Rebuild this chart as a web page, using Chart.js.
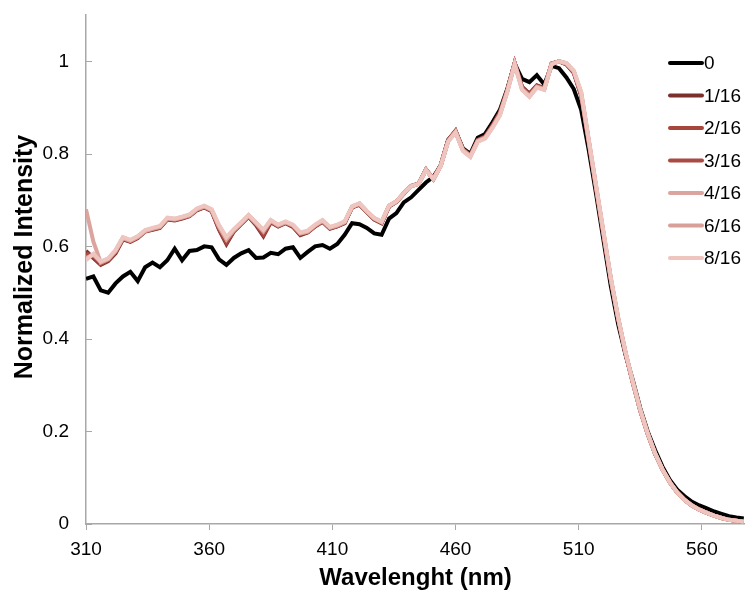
<!DOCTYPE html>
<html>
<head>
<meta charset="utf-8">
<script src="https://cdn.jsdelivr.net/npm/chart.js@4"></script>
<style>
  html, body { margin: 0; padding: 0; background: #fff; }
  #wrap { width: 745px; height: 594px; position: relative; }
</style>
</head>
<body>
<div id="wrap"><canvas id="spectrumChart" width="745" height="594"></canvas></div>
<script>
// Emission spectra, normalized, for each fraction
const wavelength = [
  310, 313, 316, 319, 322, 325, 328, 331, 334, 337, 340, 343, 346, 349, 352, 355, 358, 361,
  364, 367, 370, 373, 376, 379, 382, 385, 388, 391, 394, 397, 400, 403, 406, 409, 412, 415,
  418, 421, 424, 427, 430, 433, 436, 439, 442, 445, 448, 451, 454, 457, 460, 463, 466, 469,
  472, 475, 478, 481, 484, 487, 490, 493, 496, 499, 502, 505, 508, 511, 514, 517, 520, 523,
  526, 529, 532, 535, 538, 541, 544, 547, 550, 553, 556, 559, 562, 565, 568, 571, 574, 577
];

const seriesLabels = ["0", "1/16", "2/16", "3/16", "4/16", "6/16", "8/16"];
const seriesColors = ["#000000", "#7b302b", "#a8463e", "#a94b44", "#dca49e", "#d9a09a", "#efc5c0"];

const s0 = [
  0.530, 0.535, 0.505, 0.500, 0.520, 0.535, 0.545, 0.525, 0.555, 0.565, 0.555, 0.570, 0.595, 0.570, 0.590, 0.592, 0.600, 0.598,
  0.572, 0.560, 0.575, 0.585, 0.592, 0.575, 0.576, 0.586, 0.583, 0.595, 0.598, 0.575, 0.588, 0.600, 0.603, 0.595, 0.605, 0.625,
  0.650, 0.648, 0.640, 0.628, 0.625, 0.660, 0.672, 0.695, 0.706, 0.722, 0.738, 0.750, 0.775, 0.830, 0.848, 0.812, 0.800, 0.835,
  0.843, 0.868, 0.895, 0.940, 0.995, 0.962, 0.955, 0.970, 0.950, 0.990, 0.985, 0.965, 0.940, 0.895, 0.810, 0.715, 0.615, 0.515,
  0.432, 0.366, 0.310, 0.250, 0.200, 0.160, 0.124, 0.095, 0.074, 0.060, 0.048, 0.040, 0.034, 0.027, 0.022, 0.017, 0.014, 0.012
];
const s1 = [
  0.590, 0.575, 0.560, 0.568, 0.585, 0.615, 0.610, 0.618, 0.632, 0.636, 0.640, 0.658, 0.656, 0.660, 0.665, 0.678, 0.684, 0.676,
  0.636, 0.605, 0.632, 0.648, 0.664, 0.646, 0.622, 0.652, 0.643, 0.650, 0.642, 0.624, 0.630, 0.643, 0.653, 0.638, 0.643, 0.650,
  0.684, 0.690, 0.674, 0.658, 0.650, 0.686, 0.696, 0.714, 0.730, 0.736, 0.766, 0.746, 0.776, 0.830, 0.850, 0.810, 0.797, 0.830,
  0.838, 0.862, 0.890, 0.938, 0.996, 0.945, 0.930, 0.948, 0.942, 0.995, 1.000, 0.993, 0.975, 0.925, 0.825, 0.725, 0.625, 0.527,
  0.442, 0.368, 0.304, 0.245, 0.195, 0.152, 0.118, 0.090, 0.068, 0.052, 0.040, 0.031, 0.024, 0.018, 0.013, 0.009, 0.007, 0.005
];
const s2 = [
  0.585, 0.578, 0.562, 0.570, 0.587, 0.616, 0.611, 0.619, 0.633, 0.637, 0.641, 0.659, 0.657, 0.661, 0.666, 0.679, 0.685, 0.677,
  0.638, 0.608, 0.633, 0.649, 0.665, 0.648, 0.625, 0.653, 0.644, 0.651, 0.643, 0.626, 0.631, 0.644, 0.654, 0.639, 0.644, 0.651,
  0.684, 0.691, 0.674, 0.659, 0.651, 0.687, 0.696, 0.714, 0.730, 0.735, 0.766, 0.745, 0.775, 0.829, 0.849, 0.809, 0.796, 0.829,
  0.836, 0.860, 0.888, 0.937, 0.996, 0.943, 0.928, 0.947, 0.941, 0.995, 1.000, 0.994, 0.976, 0.927, 0.828, 0.728, 0.628, 0.529,
  0.444, 0.369, 0.305, 0.245, 0.195, 0.152, 0.118, 0.090, 0.068, 0.052, 0.040, 0.031, 0.024, 0.018, 0.013, 0.009, 0.007, 0.005
];
const s3 = [
  0.580, 0.580, 0.563, 0.571, 0.588, 0.617, 0.611, 0.619, 0.633, 0.637, 0.641, 0.659, 0.657, 0.661, 0.666, 0.679, 0.685, 0.677,
  0.639, 0.610, 0.634, 0.649, 0.665, 0.648, 0.627, 0.654, 0.644, 0.651, 0.644, 0.627, 0.631, 0.644, 0.654, 0.639, 0.644, 0.651,
  0.685, 0.691, 0.675, 0.659, 0.651, 0.687, 0.697, 0.715, 0.731, 0.735, 0.766, 0.745, 0.775, 0.829, 0.849, 0.809, 0.796, 0.829,
  0.836, 0.860, 0.888, 0.937, 0.996, 0.943, 0.928, 0.947, 0.941, 0.995, 1.000, 0.994, 0.977, 0.928, 0.829, 0.729, 0.629, 0.530,
  0.444, 0.369, 0.305, 0.245, 0.195, 0.152, 0.118, 0.090, 0.068, 0.052, 0.040, 0.031, 0.024, 0.018, 0.013, 0.009, 0.007, 0.005
];
const s4 = [
  0.680, 0.610, 0.565, 0.572, 0.590, 0.618, 0.612, 0.620, 0.633, 0.638, 0.642, 0.660, 0.658, 0.662, 0.667, 0.680, 0.686, 0.678,
  0.642, 0.615, 0.635, 0.650, 0.666, 0.650, 0.632, 0.655, 0.645, 0.652, 0.645, 0.628, 0.632, 0.645, 0.655, 0.640, 0.645, 0.652,
  0.685, 0.692, 0.675, 0.660, 0.652, 0.688, 0.697, 0.715, 0.730, 0.735, 0.766, 0.745, 0.775, 0.828, 0.848, 0.808, 0.795, 0.828,
  0.835, 0.858, 0.885, 0.935, 0.995, 0.940, 0.925, 0.945, 0.940, 0.995, 1.000, 0.995, 0.978, 0.930, 0.830, 0.730, 0.630, 0.530,
  0.445, 0.370, 0.305, 0.245, 0.195, 0.152, 0.118, 0.090, 0.068, 0.052, 0.040, 0.031, 0.024, 0.018, 0.013, 0.009, 0.007, 0.005
];
const s5 = [
  0.575, 0.582, 0.566, 0.573, 0.591, 0.619, 0.613, 0.621, 0.634, 0.639, 0.643, 0.661, 0.659, 0.663, 0.668, 0.681, 0.687, 0.679,
  0.644, 0.617, 0.636, 0.651, 0.667, 0.651, 0.634, 0.656, 0.646, 0.653, 0.646, 0.629, 0.633, 0.646, 0.656, 0.641, 0.646, 0.653,
  0.686, 0.693, 0.676, 0.661, 0.653, 0.688, 0.697, 0.715, 0.730, 0.735, 0.765, 0.745, 0.774, 0.827, 0.847, 0.807, 0.794, 0.827,
  0.834, 0.857, 0.884, 0.934, 0.994, 0.939, 0.924, 0.944, 0.939, 0.994, 1.000, 0.996, 0.979, 0.932, 0.832, 0.732, 0.632, 0.532,
  0.446, 0.371, 0.306, 0.246, 0.196, 0.153, 0.118, 0.090, 0.068, 0.052, 0.040, 0.031, 0.024, 0.018, 0.013, 0.009, 0.007, 0.005
];
const s6 = [
  0.570, 0.584, 0.567, 0.574, 0.592, 0.620, 0.614, 0.622, 0.635, 0.640, 0.644, 0.662, 0.660, 0.664, 0.669, 0.682, 0.688, 0.680,
  0.646, 0.620, 0.637, 0.652, 0.668, 0.652, 0.636, 0.657, 0.647, 0.654, 0.647, 0.630, 0.634, 0.647, 0.657, 0.642, 0.647, 0.654,
  0.686, 0.693, 0.676, 0.661, 0.653, 0.688, 0.697, 0.715, 0.730, 0.735, 0.765, 0.745, 0.774, 0.826, 0.846, 0.806, 0.793, 0.826,
  0.833, 0.856, 0.883, 0.933, 0.993, 0.938, 0.923, 0.943, 0.938, 0.993, 1.000, 0.996, 0.980, 0.934, 0.834, 0.734, 0.634, 0.534,
  0.447, 0.372, 0.307, 0.247, 0.196, 0.153, 0.118, 0.090, 0.068, 0.052, 0.040, 0.031, 0.024, 0.018, 0.013, 0.009, 0.007, 0.005
];
const seriesValues = [s0, s1, s2, s3, s4, s5, s6];

const xTicks = [310, 360, 410, 460, 510, 560];
const yTicks = [0, 0.2, 0.4, 0.6, 0.8, 1];

const axisGray = "#a8a8a8";
const fontFamily = "'Liberation Sans', Arial, Helvetica, sans-serif";

// inward tick marks on the y axis, plus the rotated y title
const yAxisExtras = {
  id: "yAxisExtras",
  afterDraw(chart) {
    const ctx = chart.ctx;
    const y = chart.scales.y;
    ctx.save();
    ctx.strokeStyle = axisGray;
    ctx.lineWidth = 1;
    yTicks.forEach((v) => {
      const py = Math.round(y.getPixelForValue(v)) + 0.5;
      ctx.beginPath();
      ctx.moveTo(y.right, py);
      ctx.lineTo(y.right + 6, py);
      ctx.stroke();
    });
    ctx.translate(25, 257);
    ctx.rotate(-Math.PI / 2);
    ctx.font = "bold 25px " + fontFamily;
    ctx.fillStyle = "#000";
    ctx.textAlign = "center";
    ctx.textBaseline = "middle";
    ctx.fillText("Normalized Intensity", 0, 0);
    ctx.restore();
  },
};

// legend stacked over the top right of the plot
const sideLegend = {
  id: "sideLegend",
  afterDraw(chart) {
    const ctx = chart.ctx;
    ctx.save();
    ctx.font = "19px " + fontFamily;
    ctx.textBaseline = "middle";
    ctx.lineCap = "round";
    chart.data.datasets.forEach((ds, i) => {
      const cy = 63 + i * 32.5;
      ctx.strokeStyle = ds.borderColor;
      ctx.lineWidth = 4;
      ctx.beginPath();
      ctx.moveTo(670, cy);
      ctx.lineTo(702, cy);
      ctx.stroke();
      ctx.fillStyle = "#000";
      ctx.fillText(ds.label, 704, cy + 1);
    });
    ctx.restore();
  },
};

new Chart(document.getElementById("spectrumChart"), {
  type: "line",
  data: {
    labels: wavelength,
    datasets: seriesLabels.map((label, i) => ({
      label: label,
      data: seriesValues[i],
      borderColor: seriesColors[i],
      borderWidth: 4,
      pointRadius: 0,
      tension: 0,
      fill: false,
      order: seriesLabels.length - 1 - i,
    })),
  },
  options: {
    responsive: false,
    animation: false,
    events: [],
    layout: { padding: { top: 15, left: 0, right: 0, bottom: 0 } },
    plugins: {
      legend: { display: false },
      tooltip: { enabled: false },
    },
    scales: {
      x: {
        type: "linear",
        min: 310,
        max: 577.5,
        afterBuildTicks: (scale) => {
          scale.ticks = xTicks.map((v) => ({ value: v }));
        },
        afterFit: (scale) => {
          scale.height = 70;
          scale.paddingLeft = 0;
          scale.paddingRight = 0;
        },
        border: { color: axisGray, width: 1.5 },
        grid: { drawOnChartArea: false, drawTicks: true, tickLength: 6, color: axisGray },
        ticks: {
          color: "#000",
          font: { size: 19, family: fontFamily },
          padding: 8,
          maxRotation: 0,
          callback: (v) => String(v),
        },
        title: {
          display: true,
          text: "Wavelenght (nm)",
          color: "#000",
          font: { size: 24, weight: "bold", family: fontFamily },
          padding: { top: 0, bottom: 1 },
        },
      },
      y: {
        min: 0,
        max: 1.1,
        afterBuildTicks: (scale) => {
          scale.ticks = yTicks.map((v) => ({ value: v }));
        },
        afterFit: (scale) => {
          scale.width = 86;
          scale.paddingTop = 0;
          scale.paddingBottom = 0;
        },
        border: { color: axisGray, width: 1.5 },
        grid: { drawOnChartArea: false, drawTicks: false },
        ticks: {
          color: "#000",
          font: { size: 19, family: fontFamily },
          padding: 17,
          callback: (v) => String(+v.toFixed(1)),
        },
        title: { display: false },
      },
    },
  },
  plugins: [yAxisExtras, sideLegend],
});
</script>
</body>
</html>
